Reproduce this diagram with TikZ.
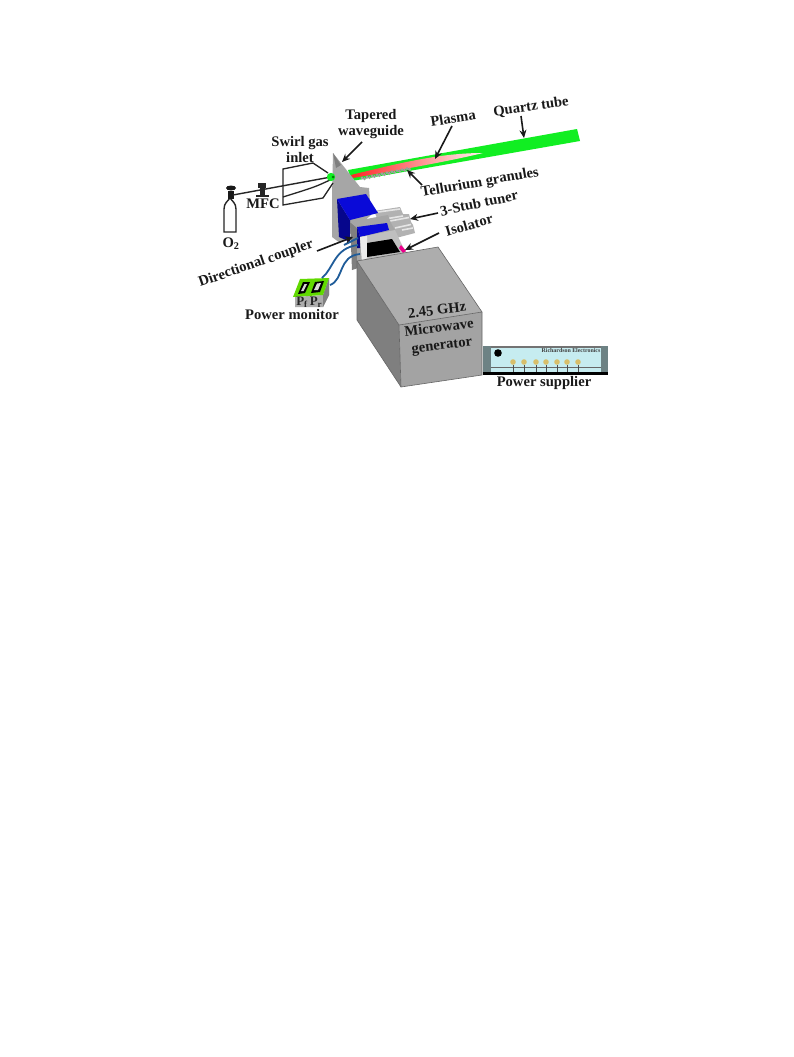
\documentclass[tikz,border=0pt]{standalone}
\usepackage{fontspec}
\setmainfont{Liberation Serif}
\usetikzlibrary{arrows.meta}
\definecolor{wg}{HTML}{A6A6A6}
\definecolor{wgd}{HTML}{7F7F7F}
\definecolor{tube}{HTML}{11EE22}
\definecolor{bluef}{HTML}{0A0AD8}
\definecolor{blued}{HTML}{06068C}
\definecolor{cable}{HTML}{1F5C99}
\definecolor{panel}{HTML}{C6ECF0}
\definecolor{knob}{HTML}{D8BE6A}
\tikzset{
 lab/.style={font=\bfseries\fontsize{14.6}{15}\selectfont,text=black!90,inner sep=0pt,align=center},
 ptr/.style={draw=black!90,line width=1.6pt,-{Stealth[length=8pt,width=7pt]}},
 wire/.style={draw=black!85,line width=1.3pt},
 face/.style={draw=black!60,line width=.6pt},
 stubbase/.style={fill=black!30},
 stripe/.style={draw=white!90!black,line width=1.6pt},
 cab/.style={draw=cable,line width=1.8pt}
}
\begin{document}
\begin{tikzpicture}[x=1pt,y=-1pt]
\useasboundingbox (0,0) rectangle (793,1057);
\fill[white] (0,0) rectangle (793,1057);
% quartz tube and plasma
\fill[tube] (348,170) -- (577,129) -- (580,141) -- (352,181) -- cycle;
\shade[left color=red!85!white,right color=red!5!white]
 (351,175) .. controls (400,163) and (440,153) .. (483,153) .. controls (450,161) and (400,170) .. (353,178) -- cycle;
\foreach \i in {0,...,19}{
 \fill[black!38] ({362+2.5*\i},{178-0.21*2.5*\i+mod(\i,2)*1.2}) circle (1.6pt);
}
% waveguide
\fill[wg] (333,153) -- (360,187) -- (369,188) -- (371,215) -- (340,243) -- (332,237) -- (332,197) -- cycle;
\fill[wgd] (333,153) -- (336,168) -- (341,165) -- cycle;
% stubs
\fill[stubbase] (374,211) -- (400,207) -- (403,214) -- (409,214) -- (411,222) -- (413,225) -- (415,233) -- (396,238) -- (380,225) -- cycle;
\draw[stripe] (378,212) -- (400,209);
\draw[stripe] (385,219) -- (403,216);
\draw[stripe] (390,221) -- (409,217.5);
\draw[stripe] (395,228) -- (411,224.5);
\draw[stripe] (402,230) -- (413,228);
% blue block
\fill[blued] (337,199) -- (350,220) -- (350,242) -- (339,237) -- cycle;
\fill[bluef] (337,199) -- (366,194) -- (378,213) -- (350,220) -- cycle;
% second plate
\fill[wgd] (350,222) -- (352,270) -- (358,268) -- (358,228) -- cycle;
\fill[wg] (350,222) -- (388,215) -- (391,223) -- (395,230) -- (360,266) -- (357,268) -- (357,228) -- cycle;
\fill[bluef] (357,227) -- (387,223) -- (389,230) -- (360,237) -- cycle;
\fill[blued] (357,227) -- (360,237) -- (360,248) -- (357,248) -- cycle;
% third plate
\fill[black!25] (360,237) -- (395,230) -- (402,245) -- (406,252) -- (362,262) -- cycle;
\fill[black!8] (360,237) -- (367,236) -- (367,258) -- (362,262) -- cycle;
\fill[black] (367,243) -- (392,239) -- (400,252) -- (367,257) -- cycle;
\fill[magenta] (401,245) -- (406,251) -- (403,253) -- (399,248) -- cycle;
% generator
\fill[wgd] (357,261) -- (399,325) -- (401,387) -- (357,320) -- cycle;
\fill[black!32] (357,261) -- (438,247) -- (482,312) -- (399,325) -- cycle;
\fill[black!36] (399,325) -- (482,312) -- (482,375) -- (401,387) -- cycle;
\draw[face] (357,261) -- (438,247) -- (482,312) -- (482,375) -- (401,387) -- (357,320) -- cycle;
\draw[face] (357,261) -- (399,325) -- (482,312) (399,325) -- (401,387);
% power supply
\fill[panel] (483,346) rectangle (608,372);
\fill[black!55] (483,346) rectangle (608,348);
\fill[black!45!panel] (483,346) rectangle (491,372);
\fill[black!45!panel] (601,346) rectangle (608,372);
\fill[black] (483,372) rectangle (608,375);
\draw[black!60,line width=.5pt] (491,367) -- (601,367);
\fill[black] (498,353) circle (3.8pt);
\foreach \x in {513,524,536,546,557,567,578}{
 \fill[knob] (\x,362) circle (2.8pt);
 \draw[black!70,line width=.4pt] (\x,365) -- (\x,372);
}
\node[font=\bfseries\fontsize{5.9}{6}\selectfont,text=black!75,inner sep=0pt] (brand) at (571,350) {Richardson Electronics};
% power monitor
\fill[black!32] (295,297) -- (323,295) -- (329,278) -- (329,295) -- (323,307) -- (295,307) -- cycle;
\fill[black!50] (323,295) -- (329,278) -- (329,295) -- (323,307) -- cycle;
\fill[green!55!yellow!85!black] (293,297) -- (300,279) -- (329,278) -- (323,295) -- cycle;
\fill[black] (298,294) -- (303,282) -- (310,282) -- (305,293) -- cycle;
\fill[black] (311,293) -- (315,282) -- (324,281) -- (320,292) -- cycle;
\fill[white!85!black] (301,291) -- (304.5,284) -- (307,284) -- (303.5,291) -- cycle;
\fill[white!85!black] (314,290) -- (317,283.5) -- (321,283) -- (318,290) -- cycle;
\node[font=\bfseries\fontsize{13}{14}\selectfont,text=black!85,inner sep=0pt] (pf) at (302,302) {P\textsubscript{f}};
\node[font=\bfseries\fontsize{13}{14}\selectfont,text=black!85,inner sep=0pt] (pr) at (316,302) {P\textsubscript{r}};
% cables
\coordinate (c1a) at (322,278); \coordinate (c1b) at (358,245);
\coordinate (c2a) at (330,285); \coordinate (c2b) at (360,254);
\coordinate (c3a) at (344,245); \coordinate (c3b) at (358,238);
\draw[cab] (c1a) .. controls (334,268) and (334,248) .. (c1b);
\draw[cab] (c2a) .. controls (344,280) and (338,256) .. (c2b);
\draw[cab] (c3a) -- (c3b);
% cylinder
\draw[wire,line width=1.4pt,fill=white] (224,232) -- (224,209) .. controls (224,203) and (228,201) .. (230,198) .. controls (232,201) and (236,203) .. (236,209) -- (236,232) -- cycle;
\fill[black!90] (228,191) rectangle (234,199);
\fill[black!90] (231,188) ellipse (5pt and 2.5pt);
% gas line and MFC
\coordinate (valve) at (233,195);
\coordinate (swirl) at (331,177);
\draw[wire,line width=1.4pt] (valve) -- (swirl);
\fill[black!85] (258,183) rectangle (266,188);
\fill[black!85] (260,186) rectangle (265,195);
\fill[black!85] (256,194.5) rectangle (269,197);
% swirl inlet
\coordinate (s1) at (283,169); \coordinate (s2) at (313,163); \coordinate (s3) at (328,173);
\coordinate (s4) at (283,205); \coordinate (s5) at (323,198); \coordinate (s6) at (333,183);
\coordinate (s7) at (283,197); \coordinate (s8) at (315,187); \coordinate (s9) at (330,180);
\draw[wire] (s3) -- (s2) -- (s1) -- (s4) -- (s5) -- (s6);
\draw[wire] (s7) .. controls (s8) .. (s9);
\fill[tube] (swirl) circle (4.2pt);
\fill[green!50!black] (333,177) circle (1.5pt);
% labels
\node[lab] (taper) at (371,123) {\rule{0pt}{12pt}Tapered\\[1pt]waveguide};
\node[lab] (inlet) at (300,150) {Swirl gas\\[1pt]inlet};
\node[lab,rotate=9] (plasma) at (453,118) {Plasma};
\node[lab,rotate=8] (quartz) at (531,107) {Quartz tube};
\node[lab,rotate=10] (tell) at (480,183) {Tellurium granules};
\node[lab,rotate=12] (stub) at (479,203) {3-Stub tuner};
\node[lab,rotate=16] (iso) at (469,225) {Isolator};
\node[lab,rotate=19] (dir) at (256,264) {Directional coupler};
\node[lab] (mon) at (292,315) {Power monitor};
\node[lab] (mfc) at (263,204) {MFC};
\node[lab] (o2) at (231,244) {O\textsubscript{2}};
\node[lab,rotate=7] (ghz) at (437,310) {2.45 GHz};
\node[lab,rotate=7] (mw) at (439,327) {Microwave};
\node[lab,rotate=7] (gen) at (442,347) {generator};
\node[lab] (sup) at (544,383) {Power supplier};
% pointers
\coordinate (aT) at (362,142); \coordinate (bT) at (342,162);
\coordinate (aQ) at (521,116); \coordinate (bQ) at (524,138);
\coordinate (aP) at (452,126); \coordinate (bP) at (435,159);
\coordinate (aG) at (422,185); \coordinate (bG) at (407,170);
\coordinate (aS) at (438,213); \coordinate (bS) at (410,219);
\coordinate (aI) at (439,233); \coordinate (bI) at (405,250);
\coordinate (aD) at (317,251); \coordinate (bD) at (353,237);
\foreach \a/\b in {aT/bT,aQ/bQ,aP/bP,aG/bG,aS/bS,aI/bI,aD/bD}{\draw[ptr] (\a) -- (\b);}
\end{tikzpicture}
\end{document}
